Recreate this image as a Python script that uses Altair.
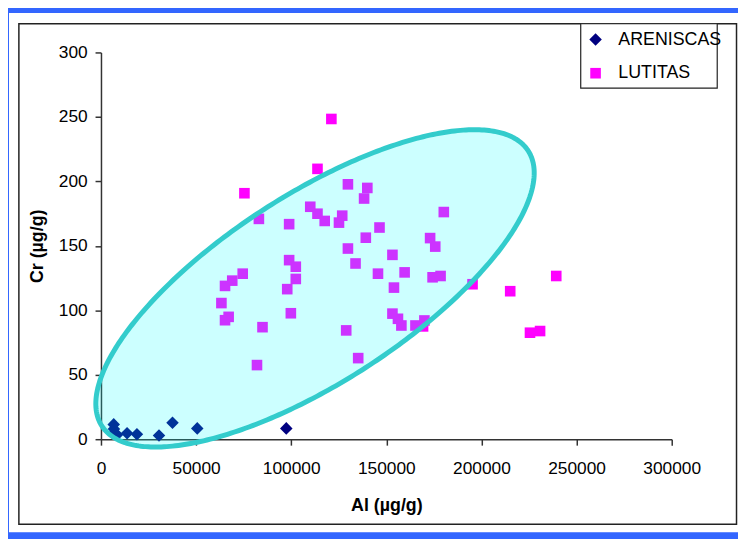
import altair as alt
import numpy as np
import pandas as pd

# ---------------- data ----------------
series_names = ["ARENISCAS", "LUTITAS"]
series_colors = ["#000080", "#FF00FF"]
series_shapes = ["diamond", "square"]
series_sizes = [160, 115]

aren_al = [6700, 6800, 7000, 8500, 13700, 18900, 30500, 37600, 50600, 97400]
aren_cr = [11.5, 8.0, 5.0, 3.5, 4.6, 3.8, 2.8, 12.8, 8.4, 8.4]

lut_al = [121100, 113800, 75400, 83000, 98900, 129800, 140000, 138300, 110000, 113800,
          117600, 126800, 125100, 146400, 139200, 129800, 98900, 102400, 102400, 97900,
          74500, 69000, 65200, 63300, 67100, 65200, 84900, 99800, 133800, 145600,
          153200, 154000, 153200, 128900, 135200, 82000, 180200, 173000, 175700, 159600,
          174300, 178500, 156100, 157900, 165300, 170000, 169300, 195300, 215100, 239300,
          225500, 230800]
lut_cr = [248.4, 209.7, 190.8, 170.9, 166.8, 197.7, 194.9, 186.7, 180.3, 174.9,
          169.3, 173.4, 168.0, 164.2, 156.3, 147.9, 138.9, 133.8, 124.3, 116.4,
          128.4, 123.0, 118.9, 105.6, 94.9, 92.3, 86.9, 97.7, 136.3, 128.4,
          143.0, 117.6, 97.4, 84.4, 62.9, 57.5, 176.2, 156.0, 149.4, 129.4,
          125.6, 126.6, 93.4, 88.2, 88.2, 92.1, 87.5, 120.2, 114.8, 126.6,
          82.6, 83.9]

x_ticks = [0, 50000, 100000, 150000, 200000, 250000, 300000]
y_ticks = [0, 50, 100, 150, 200, 250, 300]

# hand-drawn ellipse annotation (data units): centre and two conjugate semi-diameters
ell_center = (112500, 117.0)
ell_u = (112056, 106.7)
ell_v = (26810, -61.31)

# ---------------- tables ----------------
pts = pd.DataFrame({
    "Al": aren_al + lut_al,
    "Cr": aren_cr + lut_cr,
    "serie": [series_names[0]] * len(aren_al) + [series_names[1]] * len(lut_al),
})

cx, cy = ell_center
ux, uy = ell_u
vx, vy = ell_v
t = np.linspace(0, 2 * np.pi, 361)
outline = pd.DataFrame({
    "ex": cx + ux * np.cos(t) + vx * np.sin(t),
    "ey": cy + uy * np.cos(t) + vy * np.sin(t),
    "idx": np.arange(len(t)),
})
R = np.hypot(ux, vx)
phi = np.arctan2(vx, ux)
s = np.linspace(0, np.pi, 241)
t1, t2 = phi + s, phi - s
fill = pd.DataFrame({
    "ex": cx + R * np.cos(s),
    "ylo": cy + uy * np.cos(t1) + vy * np.sin(t1),
    "yhi": cy + uy * np.cos(t2) + vy * np.sin(t2),
})

# ---------------- scales / axes ----------------
xscale = alt.Scale(domain=[0, 300000], nice=False, zero=False)
yscale = alt.Scale(domain=[0, 300], nice=False, zero=False)
xaxis = alt.Axis(values=x_ticks, format="d", title="Al (µg/g)", labelPadding=15, labelFlush=False,
                 titleY=67, titleBaseline="middle", titleAlign="center")
yaxis = alt.Axis(values=y_ticks, format="d", title="Cr (µg/g)", labelPadding=8, labelFlush=False,
                 titleX=-64, titleY=195.5, titleBaseline="middle", titleAlign="center",
                 titleAngle=270)


def X(f):
    return alt.X(f, type="quantitative", scale=xscale, axis=xaxis)


def Y(f):
    return alt.Y(f, type="quantitative", scale=yscale, axis=yaxis)


one = pd.DataFrame({"k": [0]})

# page frame (blue) and chart frame (black)
blue_frame = alt.Chart(one).mark_rect(fill=None, stroke="#3366FF", strokeWidth=7).encode(
    x=alt.value(-96.5), x2=alt.value(660), y=alt.value(-43.5), y2=alt.value(488.5))
black_frame = alt.Chart(one).mark_rect(fill=None, stroke="#222222", strokeWidth=1.5).encode(
    x=alt.value(-83), x2=alt.value(642.5), y=alt.value(-29), y2=alt.value(477))
legend_box = alt.Chart(one).mark_rect(fill="white", stroke="#222222", strokeWidth=1.2).encode(
    x=alt.value(485), x2=alt.value(623), y=alt.value(-29), y2=alt.value(36))

points = alt.Chart(pts).mark_point(filled=True, opacity=1).encode(
    x=X("Al"),
    y=Y("Cr"),
    color=alt.Color("serie:N", scale=alt.Scale(domain=series_names, range=series_colors),
                    legend=alt.Legend(title=None, orient="none", legendX=491, legendY=-22)),
    shape=alt.Shape("serie:N", scale=alt.Scale(domain=series_names, range=series_shapes),
                    legend=alt.Legend(title=None, orient="none", legendX=491, legendY=-22)),
    size=alt.Size("serie:N", scale=alt.Scale(domain=series_names, range=series_sizes), legend=None),
)

ell_fill = alt.Chart(fill).mark_area(color="#00FFFF", opacity=0.2).encode(
    x=X("ex"), y=Y("ylo"), y2="yhi")
ell_line = alt.Chart(outline).mark_line(color="#33CCCC", strokeWidth=5, strokeJoin="round").encode(
    x=X("ex"), y=Y("ey"), order="idx:Q")

chart = alt.layer(blue_frame, black_frame, legend_box, points, ell_fill, ell_line).properties(
    width=577, height=391,
    autosize=alt.AutoSizeParams(type="none"),
    padding={"left": 94, "top": 42, "right": 67, "bottom": 102},
    background="white",
).configure_view(stroke=None, fill="white").configure_axis(
    grid=False, domainColor="#333333", domainWidth=1.5, tickColor="#333333", tickWidth=1.5,
    tickSize=6, labelFont="Liberation Sans", labelFontSize=17.5, labelColor="black",
    titleFont="Liberation Sans", titleFontSize=18, titleFontWeight="bold", titleColor="black",
).configure_legend(
    padding=0, symbolSize=80, symbolStrokeWidth=0, labelFont="Liberation Sans",
    labelFontSize=18, labelColor="black", labelOffset=14, rowPadding=16,
)

chart.save("out.html", embed_options={"renderer": "svg", "actions": False})
